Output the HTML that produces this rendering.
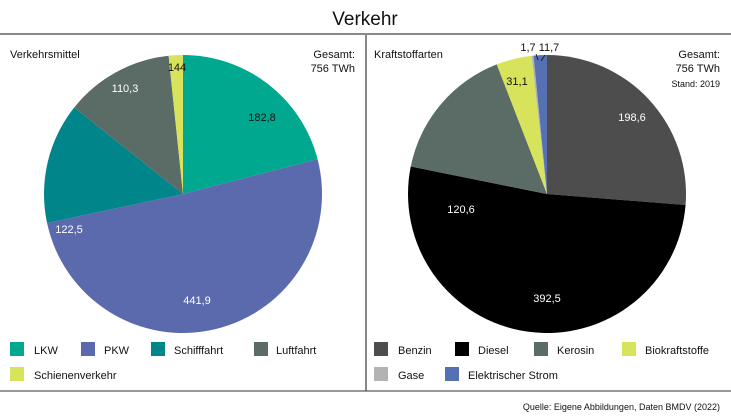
<!DOCTYPE html>
<html><head><meta charset="utf-8"><style>
body{margin:0;width:731px;height:418px;background:#fff;font-family:"Liberation Sans",sans-serif;overflow:hidden}
svg{position:absolute;left:0;top:0}
text{font-family:"Liberation Sans",sans-serif;fill:#111}
text.w{fill:#fff}
</style></head><body>
<svg width="731" height="418" id="s">
<text x="365" y="25" font-size="19" text-anchor="middle">Verkehr</text>
<line x1="0" y1="34" x2="731" y2="34" stroke="#888" stroke-width="2"/>
<line x1="366" y1="35" x2="366" y2="391" stroke="#111" stroke-width="1"/>
<line x1="0" y1="391" x2="731" y2="391" stroke="#333" stroke-width="1"/>
<g id="p1"></g><g id="p2"></g>
<text x="10" y="58" font-size="11">Verkehrsmittel</text>
<text x="355" y="58" font-size="11" text-anchor="end">Gesamt:</text>
<text x="355" y="72" font-size="11" text-anchor="end">756 TWh</text>
<text x="374" y="58" font-size="11">Kraftstoffarten</text>
<text x="720" y="58" font-size="11" text-anchor="end">Gesamt:</text>
<text x="720" y="72" font-size="11" text-anchor="end">756 TWh</text>
<text x="720" y="87" font-size="9" text-anchor="end">Stand: 2019</text>
<g font-size="11">
<text x="262" y="121" text-anchor="middle">182,8</text>
<text class="w" x="197" y="304" text-anchor="middle">441,9</text>
<text class="w" x="69" y="233" text-anchor="middle">122,5</text>
<text class="w" x="125" y="92" text-anchor="middle">110,3</text>
<text x="177" y="71" text-anchor="middle">144</text>
<text class="w" x="632" y="121" text-anchor="middle">198,6</text>
<text class="w" x="547" y="302" text-anchor="middle">392,5</text>
<text class="w" x="461" y="213" text-anchor="middle">120,6</text>
<text x="517" y="85" text-anchor="middle">31,1</text>
<text x="528" y="51" text-anchor="middle">1,7</text>
<text x="549" y="51" text-anchor="middle">11,7</text>
</g>
<line x1="536" y1="54" x2="538" y2="60" stroke="#111" stroke-width="0.8"/>
<line x1="545" y1="55" x2="541" y2="61" stroke="#111" stroke-width="0.8"/>
<g font-size="11">
<rect x="10" y="342" width="14" height="14" fill="#00a88f"/><text x="34" y="354">LKW</text>
<rect x="81" y="342" width="14" height="14" fill="#5b6aad"/><text x="104" y="354">PKW</text>
<rect x="151" y="342" width="14" height="14" fill="#00858a"/><text x="174" y="354">Schifffahrt</text>
<rect x="254" y="342" width="14" height="14" fill="#5b6b66"/><text x="276" y="354">Luftfahrt</text>
<rect x="10" y="367" width="14" height="14" fill="#d7e35a"/><text x="34" y="379">Schienenverkehr</text>
<rect x="374" y="342" width="14" height="14" fill="#4d4d4d"/><text x="398" y="354">Benzin</text>
<rect x="455" y="342" width="14" height="14" fill="#000"/><text x="478" y="354">Diesel</text>
<rect x="534" y="342" width="14" height="14" fill="#5b6b66"/><text x="557" y="354">Kerosin</text>
<rect x="622" y="342" width="14" height="14" fill="#d7e35a"/><text x="645" y="354">Biokraftstoffe</text>
<rect x="374" y="367" width="14" height="14" fill="#b3b3b3"/><text x="398" y="379">Gase</text>
<rect x="445" y="367" width="14" height="14" fill="#5671b3"/><text x="468" y="379">Elektrischer Strom</text>
</g>
<text x="720" y="410" font-size="9" text-anchor="end">Quelle: Eigene Abbildungen, Daten BMDV (2022)</text>
</svg>
<script>
function pie(id,cx,cy,r,vals,cols){
var t=vals.reduce((a,b)=>a+b,0),a=0,g=document.getElementById(id),h='';
vals.forEach((v,i)=>{var b=a+v/t*2*Math.PI;
var x1=cx+r*Math.sin(a),y1=cy-r*Math.cos(a),x2=cx+r*Math.sin(b),y2=cy-r*Math.cos(b);
h+='<path d="M'+cx+' '+cy+'L'+x1+' '+y1+'A'+r+' '+r+' 0 '+((b-a)>Math.PI?1:0)+' 1 '+x2+' '+y2+'Z" fill="'+cols[i]+'"/>';a=b;});
g.innerHTML=h;}
pie('p1',183,194,139,[182.8,441.9,122.5,110.3,14.4],['#00a88f','#5b6aad','#00858a','#5b6b66','#d7e35a']);
pie('p2',547,194,139,[198.6,392.5,120.6,31.1,1.7,11.7],['#4d4d4d','#000','#5b6b66','#d7e35a','#b3b3b3','#5671b3']);
</script>
</body></html>
